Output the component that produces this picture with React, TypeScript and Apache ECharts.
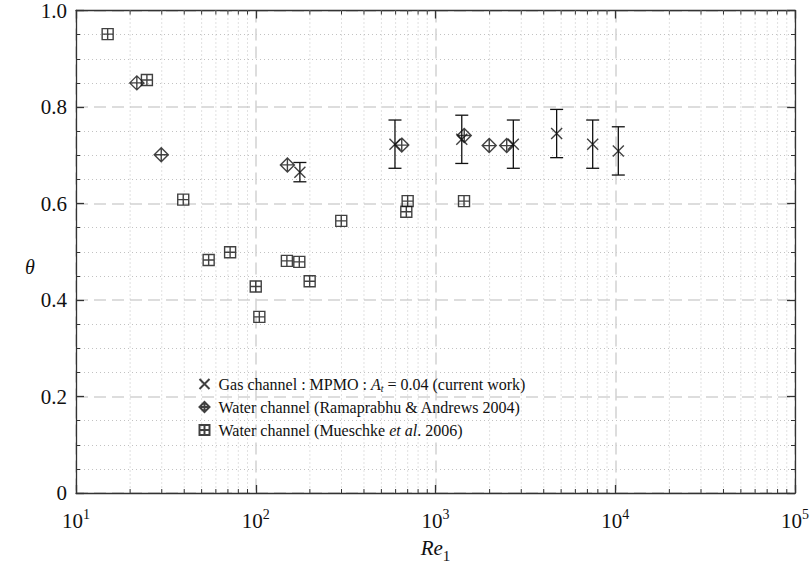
import React, { useEffect, useRef } from 'react';
import * as echarts from 'echarts';

const FONT = 'Liberation Serif, Times New Roman, serif';
const INK = '#111';

// Gas channel : MPMO (current work)
const reGas = [176, 595, 1400, 2710, 4720, 7490, 10400];
const thetaGas = [0.665, 0.723, 0.733, 0.723, 0.745, 0.723, 0.709];
const errGas = [0.02, 0.05, 0.05, 0.05, 0.05, 0.05, 0.05];

// Water channel (Ramaprabhu & Andrews 2004)
const reRam = [21.8, 29.8, 150, 649, 1445, 1990, 2490];
const thetaRam = [0.85, 0.701, 0.68, 0.721, 0.741, 0.72, 0.72];

// Water channel (Mueschke et al. 2006)
const reMue = [15, 24.8, 39.5, 54.7, 72, 100, 104.7, 149, 174.7, 199.5, 299, 688, 700, 1441];
const thetaMue = [0.951, 0.856, 0.608, 0.483, 0.499, 0.428, 0.365, 0.481, 0.479, 0.439, 0.564, 0.583, 0.605, 0.605];

// axis structure
const xDecades = [10, 100, 1000, 10000];
const xMinorMultipliers = [2, 3, 4, 5, 6, 7, 8, 9];
const yTickLabels = ['0', '0.2', '0.4', '0.6', '0.8', '1.0'];

const legendNames = ['gas', 'ram', 'mue'];

const SYM_X = 'path://M0,0L10,10M10,0L0,10';
const SYM_DIAMOND = 'path://M5,0L10,5L5,10L0,5ZM5,0L5,10M0,5L10,5';
const SYM_SQUARE = 'path://M0,0L10,0L10,10L0,10ZM5,0L5,10M0,5L10,5';

const minorX: number[] = [];
xDecades.forEach((d) => xMinorMultipliers.forEach((m) => minorX.push(d * m)));

const axisLineStyle = { color: '#333', width: 1.3 };
const majorSplit = { show: true, lineStyle: { color: '#d2d2d2', width: 1.5, type: [12, 6] } };
const minorSplit = { show: true, lineStyle: { color: '#c2c2c2', width: 1, type: [1, 3] } };

const supRich = {
  b: { fontFamily: FONT, fontSize: 21, color: INK, lineHeight: 24, verticalAlign: 'bottom' },
  sup: { fontFamily: FONT, fontSize: 14, color: INK, lineHeight: 24, verticalAlign: 'top' },
};

function buildOption() {
  const xCommon = {
    type: 'log',
    logBase: 10,
    min: 10,
    max: 100000,
    axisLine: { show: true, onZero: false, lineStyle: axisLineStyle },
    axisTick: { show: true, inside: true, length: 8, lineStyle: axisLineStyle },
    minorTick: { show: false },
  };
  const yCommon = {
    type: 'value',
    min: 0,
    max: 1,
    interval: 0.2,
    axisLine: { show: true, onZero: false, lineStyle: axisLineStyle },
    axisTick: { show: true, inside: true, length: 8, lineStyle: axisLineStyle },
    minorTick: { show: true, splitNumber: 4, length: 4, lineStyle: { color: '#333', width: 1 } },
  };
  return {
    animation: false,
    backgroundColor: '#fff',
    textStyle: { fontFamily: FONT },
    grid: { left: 76, right: 17, top: 9, bottom: 72, containLabel: false },
    xAxis: [
      {
        ...xCommon,
        position: 'bottom',
        name: '{i|Re}{s|1}',
        nameLocation: 'middle',
        nameGap: 44,
        nameTextStyle: {
          rich: {
            i: { fontFamily: FONT, fontStyle: 'italic', fontSize: 21, color: INK, lineHeight: 26, verticalAlign: 'top' },
            s: { fontFamily: FONT, fontSize: 15, color: INK, lineHeight: 14, verticalAlign: 'bottom' },
          },
        },
        axisLabel: {
          margin: 14,
          formatter: (v: number) => `{b|10}{sup|${Math.round(Math.log10(v))}}`,
          rich: supRich,
        },
        splitLine: majorSplit,
      },
      {
        ...xCommon,
        position: 'top',
        axisLabel: { show: false },
        splitLine: { show: false },
      },
    ],
    yAxis: [
      {
        ...yCommon,
        position: 'left',
        axisLabel: {
          margin: 9,
          fontFamily: FONT,
          fontSize: 21,
          color: INK,
          formatter: (v: number) => yTickLabels[Math.round(v / 0.2)] ?? '',
        },
        splitLine: majorSplit,
        minorSplitLine: minorSplit,
      },
      {
        ...yCommon,
        position: 'right',
        axisLabel: { show: false },
        splitLine: { show: false },
        minorSplitLine: { show: false },
      },
    ],
    legend: {
      orient: 'vertical',
      left: 197,
      top: 375,
      itemWidth: 10,
      itemHeight: 10,
      itemGap: 5,
      padding: 0,
      data: legendNames,
      textStyle: {
        fontFamily: FONT,
        fontSize: 16,
        color: INK,
        lineHeight: 18,
        padding: [0, 0, 0, 4],
        rich: {
          i: { fontFamily: FONT, fontStyle: 'italic', fontSize: 16, color: INK, lineHeight: 18 },
          sub: { fontFamily: FONT, fontStyle: 'italic', fontSize: 10, color: INK, lineHeight: 11, verticalAlign: 'bottom' },
        },
      },
      formatter: (name: string) => {
        if (name === 'gas') return 'Gas channel : MPMO : {i|A}{sub|t} = 0.04 (current work)';
        if (name === 'ram') return 'Water channel (Ramaprabhu & Andrews 2004)';
        return 'Water channel (Mueschke {i|et al}. 2006)';
      },
    },
    graphic: [
      {
        type: 'text',
        x: 30,
        y: 267,
        style: {
          text: 'θ',
          fontFamily: FONT,
          fontStyle: 'italic',
          fontSize: 20,
          fill: INK,
          align: 'center',
          verticalAlign: 'middle',
        },
      },
    ],
    series: [
      {
        name: 'minorX',
        type: 'custom',
        xAxisIndex: 0,
        yAxisIndex: 0,
        silent: true,
        clip: false,
        z: 1,
        data: minorX.map((v) => [v, 0]),
        encode: { x: 0, y: 1 },
        renderItem: (params: any, api: any) => {
          const x = api.coord([api.value(0), 0])[0];
          const cs = params.coordSys;
          const top = cs.y;
          const bottom = cs.y + cs.height;
          return {
            type: 'group',
            children: [
              { type: 'line', shape: { x1: x, y1: top, x2: x, y2: bottom }, style: { stroke: '#c2c2c2', lineWidth: 1, lineDash: [1, 3] } },
              { type: 'line', shape: { x1: x, y1: bottom, x2: x, y2: bottom - 4 }, style: { stroke: '#333', lineWidth: 1 } },
              { type: 'line', shape: { x1: x, y1: top, x2: x, y2: top + 4 }, style: { stroke: '#333', lineWidth: 1 } },
            ],
          };
        },
      },
      {
        name: 'gasErr',
        type: 'custom',
        xAxisIndex: 0,
        yAxisIndex: 0,
        silent: true,
        clip: false,
        z: 3,
        data: reGas.map((r, i) => [r, thetaGas[i] - errGas[i], thetaGas[i] + errGas[i]]),
        encode: { x: 0, y: [1, 2] },
        renderItem: (params: any, api: any) => {
          const lo = api.coord([api.value(0), api.value(1)]);
          const hi = api.coord([api.value(0), api.value(2)]);
          const w = 6.5;
          const st = { stroke: INK, lineWidth: 1.3 };
          return {
            type: 'group',
            children: [
              { type: 'line', shape: { x1: lo[0], y1: lo[1], x2: hi[0], y2: hi[1] }, style: st },
              { type: 'line', shape: { x1: lo[0] - w, y1: lo[1], x2: lo[0] + w, y2: lo[1] }, style: st },
              { type: 'line', shape: { x1: hi[0] - w, y1: hi[1], x2: hi[0] + w, y2: hi[1] }, style: st },
            ],
          };
        },
      },
      {
        name: 'gas',
        type: 'scatter',
        z: 4,
        symbol: SYM_X,
        symbolSize: 11,
        itemStyle: { color: 'none', borderColor: INK, borderWidth: 1.4 },
        data: reGas.map((r, i) => [r, thetaGas[i]]),
      },
      {
        name: 'ram',
        type: 'scatter',
        z: 4,
        symbol: SYM_DIAMOND,
        symbolSize: 14,
        itemStyle: { color: 'none', borderColor: INK, borderWidth: 1.4 },
        data: reRam.map((r, i) => [r, thetaRam[i]]),
      },
      {
        name: 'mue',
        type: 'scatter',
        z: 4,
        symbol: SYM_SQUARE,
        symbolSize: 11,
        itemStyle: { color: 'none', borderColor: INK, borderWidth: 1.4 },
        data: reMue.map((r, i) => [r, thetaMue[i]]),
      },
    ],
  };
}

export default function App() {
  const ref = useRef<HTMLDivElement>(null);
  useEffect(() => {
    if (!ref.current) return;
    const chart = echarts.init(ref.current, null, { renderer: 'svg' });
    chart.setOption(buildOption() as any);
    return () => chart.dispose();
  }, []);
  return (
    <div
      ref={ref}
      style={{ position: 'absolute', left: 0, top: 0, width: 812, height: 568, background: '#fff' }}
    />
  );
}
